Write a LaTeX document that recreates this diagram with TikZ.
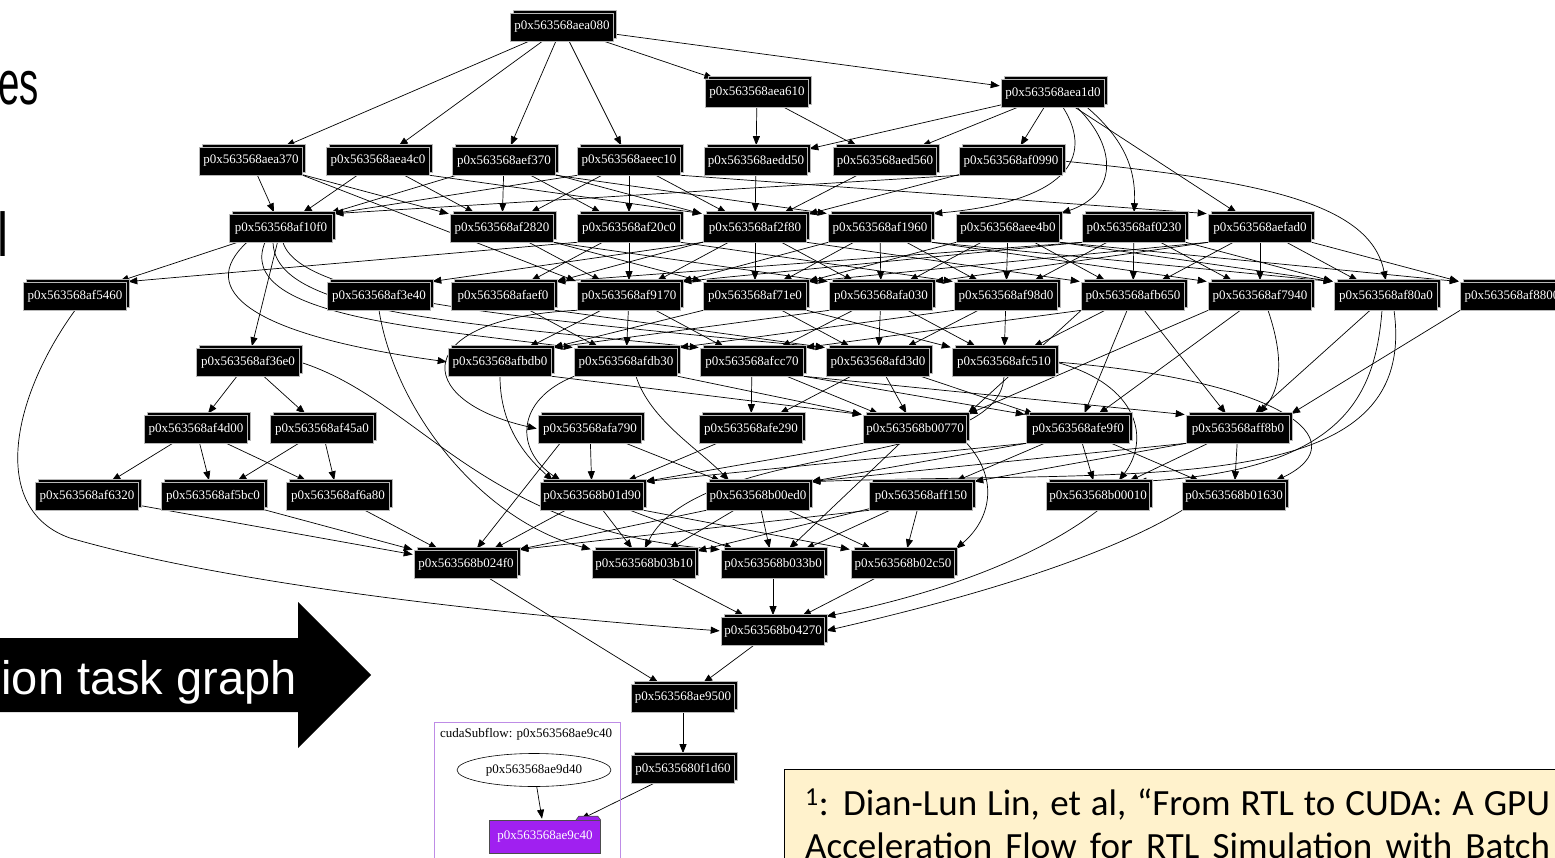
\documentclass[tikz,border=0pt]{standalone}
\usepackage{fontspec}
\setmainfont{Liberation Serif}
\newfontfamily\slidefont{Liberation Sans}
\newfontfamily\notefont{Carlito}
\usetikzlibrary{arrows.meta, shapes.geometric, shadows, backgrounds}
\definecolor{cuPurple}{RGB}{160,32,240}
\definecolor{cuFrame}{RGB}{190,140,230}
\definecolor{cNote}{RGB}{255,242,204}
\tikzset{
	task/.style={rectangle, fill=black, draw=gray!55, line width=0.6pt, text=white, inner sep=2pt,
		minimum width=103pt, minimum height=28pt, font=\fontsize{13}{15}\selectfont,
		general shadow={shadow xshift=3pt, shadow yshift=3pt, fill=black, draw=gray!55, line width=0.6pt}},
	dep/.style={-{Triangle[length=9pt,width=7pt]}, line width=0.7pt, shorten >=1.5pt},
}

\begin{document}
\begin{tikzpicture}[x=1pt, y=-1pt,
		lbl/.style={inner sep=0, font=\fontsize{13}{15}\selectfont}]
	\useasboundingbox (0,0) rectangle (1555,858);
	\clip (0,0) rectangle (1555,858);
	% slide text cut at the left edge
	\node[anchor=base east, inner sep=0, font=\slidefont\fontsize{62}{70}\selectfont] (ttla) at (39,105) {\scalebox{0.62}[1]{es}};
	\node[anchor=base east, inner sep=0, font=\slidefont\fontsize{62}{70}\selectfont] (ttlb) at (9,257) {\scalebox{0.8}[1]{l}};
	\fill[black] (-5,638) -- (298,638) -- (298,602) -- (371,675) -- (298,748) -- (298,712) -- (-5,712) -- cycle;
	\node[anchor=base east, inner sep=0, text=white, font=\slidefont\fontsize{47}{50}\selectfont] (bigarrow) at (297,694) {ion task graph};
	% task graph, one row per rank
	\node[task] (aea080) at (562,27) {p0x563568aea080};
	\foreach \n/\x in {aea610/757, aea1d0/1053} \node[task] (\n) at (\x,93) {p0x563568\n};
	\foreach \n/\x in {aea370/251, aea4c0/378, aef370/504, aeec10/629, aedd50/756, aed560/885, af0990/1011}
		\node[task] (\n) at (\x,161) {p0x563568\n};
	\foreach \n/\x in {af10f0/281, af2820/502, af20c0/629, af2f80/755, af1960/880, aee4b0/1008, af0230/1134, aefad0/1260}
		\node[task] (\n) at (\x,228) {p0x563568\n};
	\foreach \n/\x in {af5460/75, af3e40/379, afaef0/503, af9170/629, af71e0/755, afa030/881, af98d0/1006, afb650/1133, af7940/1260, af80a0/1386, af8800/1512}
		\node[task] (\n) at (\x,296) {p0x563568\n};
	\foreach \n/\x in {af36e0/248, afbdb0/500, afdb30/626, afcc70/752, afd3d0/878, afc510/1004}
		\node[task] (\n) at (\x,362) {p0x563568\n};
	\foreach \n/\x in {af4d00/196, af45a0/322, afa790/590, afe290/751, b00770/915, afe9f0/1078, aff8b0/1238}
		\node[task] (\n) at (\x,429) {p0x563568\n};
	\foreach \n/\x in {af6320/87, af5bc0/213, af6a80/338, b01d90/592, b00ed0/758, aff150/921, b00010/1098, b01630/1234}
		\node[task] (\n) at (\x,496) {p0x563568\n};
	\foreach \n/\x in {b024f0/466, b03b10/644, b033b0/773, b02c50/903}
		\node[task] (\n) at (\x,564) {p0x563568\n};
	\node[task] (b04270) at (773,631) {p0x563568b04270};
	\node[task] (ae9500) at (683,698) {p0x563568ae9500};
	\node[task] (0f1d60) at (683,769) {p0x5635680f1d60};
	% cuda subflow cluster
	\draw[cuFrame, line width=0.9pt] (434,722) rectangle (620,880);
	\node[lbl, anchor=west] (sublbl) at (440,734) {cudaSubflow: p0x563568ae9c40};
	\node[lbl, draw, ellipse, line width=0.6pt, minimum width=154pt, minimum height=33pt] (ae9d40) at (534,770) {p0x563568ae9d40};
	\node[lbl, fill=cuPurple, draw=black!70, line width=0.6pt, text=white, minimum width=111pt, minimum height=33pt] (ae9c40) at (545,837) {p0x563568ae9c40};
	\filldraw[fill=cuPurple, draw=black!70, line width=0.6pt] ([xshift=-25pt]ae9c40.north east) -- ++(3,-4) -- ++(19,0) -- ++(3,4);
	% reference note
	\node[draw=black, line width=1.3pt, fill=cNote, anchor=north west, minimum width=800pt, minimum height=130pt, inner sep=0] (note) at (784,769) {};
	\node[anchor=base west, inner sep=0, font=\notefont\fontsize{37}{44}\selectfont] (refa) at (805,815)
		{\makebox[745pt][s]{\textsuperscript{1}: Dian-Lun Lin, et al, “From RTL to CUDA: A GPU}};
	\node[anchor=base west, inner sep=0, font=\notefont\fontsize{37}{44}\selectfont] (refb) at (805,858)
		{\makebox[745pt][s]{Acceleration Flow for RTL Simulation with Batch}};
	\begin{scope}[on background layer]
		\foreach \a/\b in {aea080/aea370, aea080/aea4c0, aea080/aef370, aea080/aeec10, aea080/aea610, aea080/aea1d0,
				aea610/aedd50, aea610/aed560, aea1d0/aedd50, aea1d0/aed560, aea1d0/af0990, aea1d0/aefad0,
				aea370/af10f0, aea370/af2820, aea4c0/af10f0, aea4c0/af2820,
				aef370/af10f0, aef370/af2820, aef370/af20c0, aef370/af2f80,
				aeec10/af2820, aeec10/af20c0, aeec10/af2f80, aedd50/af2f80, aed560/af2f80, af0990/af2f80,
				af10f0/af5460, af10f0/af36e0, af2820/af9170, af20c0/afaef0, af20c0/af9170,
				af2f80/afaef0, af2f80/af9170, af2f80/af71e0, af2f80/afa030,
				af1960/af71e0, af1960/afa030, af1960/af98d0, aee4b0/afa030, aee4b0/af98d0, aee4b0/afb650,
				af0230/af98d0, af0230/afb650, af0230/af7940, aefad0/afb650, aefad0/af7940, aefad0/af80a0,
				afaef0/afdb30, af9170/afbdb0, af9170/afdb30, af9170/afcc70,
				af71e0/afd3d0, afa030/afcc70, afa030/afd3d0, afa030/afc510, af98d0/afd3d0, af98d0/afc510, afb650/afc510,
				af36e0/af4d00, af36e0/af45a0, af4d00/af6320, af4d00/af5bc0, af4d00/af6a80, af45a0/af5bc0, af45a0/af6a80,
				afcc70/afe290, afcc70/b00770, afd3d0/afe290, afd3d0/b00770, afd3d0/afe9f0,
				afb650/afe9f0, afb650/aff8b0, af7940/afe9f0, af80a0/aff8b0,
				afa790/b01d90, afa790/b00ed0, afe290/b01d90, b00770/b033b0,
				afe9f0/b00010, afe9f0/b01630, afe9f0/aff150, aff8b0/b01630, aff8b0/b00010,
				b01d90/b024f0, b01d90/b03b10, b01d90/b033b0, b00ed0/b03b10, b00ed0/b033b0, b00ed0/b02c50,
				aff150/b03b10, aff150/b033b0, aff150/b02c50, af6320/b024f0, af5bc0/b024f0, af6a80/b024f0,
				b03b10/b04270, b033b0/b04270, b02c50/b04270,
				b024f0/ae9500, b04270/ae9500, ae9500/0f1d60, 0f1d60/ae9c40, ae9d40/ae9c40}
			\draw[dep] (\a) -- (\b);
		% long edges to the right
		\foreach \a/\b in {aea4c0/af2f80, aef370/af1960, aeec10/aefad0, aea370/af9170,
				af2820/af71e0, af2820/afa030, af20c0/af98d0, af2f80/afb650,
				af1960/af7940, af1960/af80a0, aee4b0/af80a0, aee4b0/af8800, af0230/af80a0, aefad0/af8800,
				afaef0/afd3d0, af71e0/afc510, afbdb0/b00770, afdb30/b00770, afcc70/aff8b0, afcc70/afe9f0,
				b01d90/b02c50}
			\draw[dep] (\a.south east) -- (\b.north west);
		% long edges to the left
		\foreach \a/\b in {aeec10/af10f0, af0990/af10f0, af20c0/af5460, af2f80/af3e40,
				af1960/af9170, aee4b0/af71e0, af0230/afaef0, af0230/af9170, aefad0/af71e0, aefad0/afa030,
				af71e0/afbdb0, afa030/afbdb0, af98d0/afdb30, afb650/afcc70,
				afb650/b00770, af7940/b00770, af8800/aff8b0, aff8b0/aff150,
				b00770/b01d90, afe9f0/b00ed0, afe9f0/b01d90, aff8b0/b00ed0, aff150/b024f0, b00ed0/b024f0}
			\draw[dep] (\a.south west) -- (\b.north east);
		% curved edges
		\draw[dep] (af5460.south) .. controls (10,400) and (-10,510) .. (70,538) .. controls (250,590) and (550,618) .. (b04270.west);
		\draw[dep] ([xshift=10pt]aea1d0.south) .. controls (1090,150) and (1080,200) .. (af1960.north east);
		\draw[dep] ([xshift=24pt]aea1d0.south) .. controls (1120,150) and (1115,195) .. (aee4b0.north east);
		\draw[dep] ([xshift=34pt]aea1d0.south) .. controls (1125,140) and (1136,170) .. (af0230.north);
		\draw[dep] (af0990.east) .. controls (1250,180) and (1370,200) .. (af80a0.north);
		\draw[dep] ([xshift=-34pt]af10f0.south) .. controls (195,290) and (250,335) .. (afbdb0.west);
		\draw[dep] ([xshift=-16pt]af10f0.south) .. controls (235,315) and (420,328) .. (afdb30.north west);
		\draw[dep] ([xshift=-8pt]af10f0.south) .. controls (275,312) and (450,322) .. (afcc70.north west);
		\draw[dep] ([xshift=2pt]af10f0.south) .. controls (300,300) and (520,318) .. (afd3d0.north west);
		\draw[dep] (af9170.south west) .. controls (410,318) and (410,400) .. (afa790.west);
		\draw[dep] (afbdb0.south) .. controls (500,430) and (530,460) .. ([xshift=-38pt]b01d90.north);
		\draw[dep] (afdb30.south west) .. controls (515,400) and (515,450) .. ([xshift=-30pt]b01d90.north);
		\draw[dep] ([xshift=10pt]afdb30.south) .. controls (650,420) and (700,450) .. ([xshift=-28pt]b00ed0.north);
		\draw[dep] ([xshift=-30pt]afa790.south) -- ([xshift=10pt]b024f0.north);
		\draw[dep] (b00770.south east) .. controls (1000,480) and (990,520) .. (b02c50.north east);
		\draw[dep] (afc510.east) .. controls (1140,385) and (1150,440) .. ([xshift=20pt]b00010.north);
		\draw[dep] (afc510.east) .. controls (1280,380) and (1360,440) .. ([xshift=40pt]b01630.north);
		\draw[dep] (afc510.south) .. controls (1000,470) and (700,440) .. (b03b10.north);
		\draw[dep] ([xshift=-4pt]af80a0.south) .. controls (1375,400) and (1340,470) .. ([xshift=38pt]b00010.north);
		\draw[dep] ([xshift=8pt]af80a0.south) .. controls (1420,500) and (1150,470) .. (b00ed0.north east);
		\draw[dep] ([xshift=8pt]af7940.south) .. controls (1285,360) and (1280,390) .. ([xshift=20pt]aff8b0.north);
		\draw[dep] (af3e40.south) .. controls (395,410) and (480,520) .. (b03b10.north west);
		\draw[dep] (af36e0.east) .. controls (420,400) and (480,530) .. (b033b0.north west);
		\draw[dep] (b00010.south) .. controls (1060,540) and (980,585) .. (b04270.north east);
		\draw[dep] (b01630.south west) .. controls (1100,560) and (960,600) .. (b04270.east);
	\end{scope}
\end{tikzpicture}
\end{document}
